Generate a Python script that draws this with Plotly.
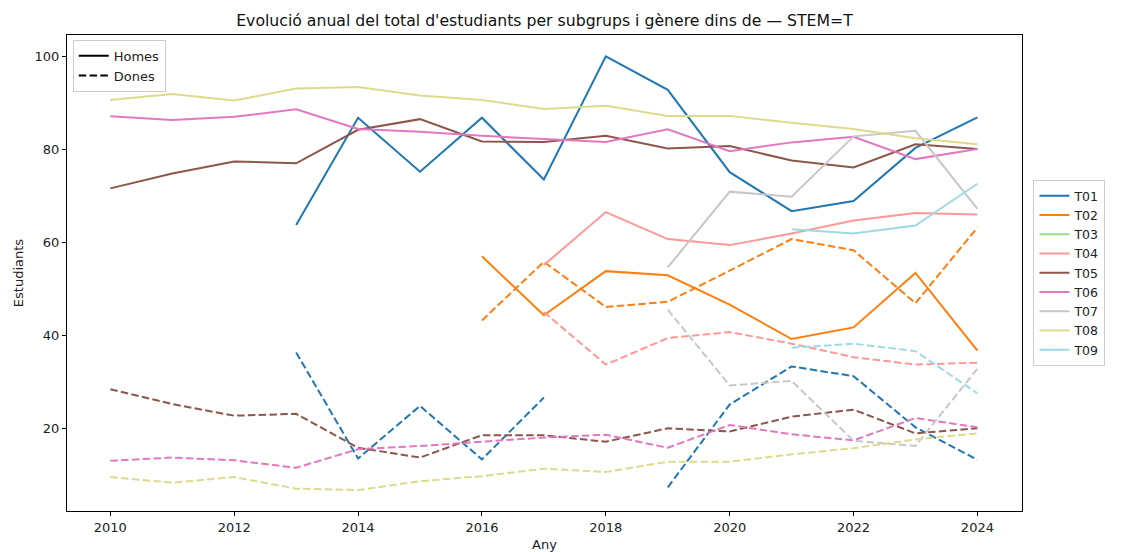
import plotly.graph_objects as go

# Dades llegides del gràfic (None = sense dades)
anys = list(range(2010, 2025))
grups = ["T01", "T02", "T03", "T04", "T05", "T06", "T07", "T08", "T09"]
colors = ["#1f77b4", "#ff7f0e", "#98df8a", "#ff9896", "#8c564b",
          "#e377c2", "#c7c7c7", "#dbdb8d", "#9edae5"]

N = None
homes = {
    "T01": [N, N, N, 63.7, 86.8, 75.2, 86.8, 73.5, 100.0, 92.8, 75.1, 66.7, 68.9, 80.3, 86.9],
    "T02": [N, N, N, N, N, N, 57.0, 44.3, 53.8, 52.9, 46.6, 39.2, 41.7, 53.4, 36.7],
    "T03": [N] * 15,
    "T04": [N, N, N, N, N, N, N, 55.1, 66.5, 60.7, 59.4, 61.9, 64.7, 66.3, 66.0],
    "T05": [71.6, 74.8, 77.4, 77.0, 84.2, 86.5, 81.7, 81.6, 82.9, 80.2, 80.7, 77.6, 76.1, 81.1, 80.1],
    "T06": [87.1, 86.3, 87.0, 88.6, 84.4, 83.8, 82.9, 82.2, 81.6, 84.3, 79.6, 81.5, 82.7, 77.9, 80.1],
    "T07": [N, N, N, N, N, N, N, N, N, 54.6, 70.9, 69.8, 82.8, 84.0, 67.2],
    "T08": [90.6, 91.9, 90.5, 93.1, 93.4, 91.6, 90.6, 88.7, 89.4, 87.2, 87.2, 85.7, 84.4, 82.4, 81.1],
    "T09": [N, N, N, N, N, N, N, N, N, N, N, 62.8, 61.9, 63.6, 72.6],
}
dones = {
    "T01": [N, N, N, 36.3, 13.5, 24.8, 13.3, 26.6, N, 7.3, 25.1, 33.3, 31.2, 20.2, 13.2],
    "T02": [N, N, N, N, N, N, 43.2, 55.8, 46.1, 47.2, 53.9, 60.7, 58.3, 46.9, 63.2],
    "T03": [N] * 15,
    "T04": [N, N, N, N, N, N, N, 45.0, 33.7, 39.4, 40.7, 38.2, 35.3, 33.7, 34.1],
    "T05": [28.4, 25.2, 22.7, 23.1, 15.8, 13.7, 18.5, 18.5, 17.1, 20.0, 19.3, 22.5, 24.0, 18.9, 20.0],
    "T06": [13.0, 13.7, 13.1, 11.5, 15.5, 16.2, 17.1, 18.0, 18.6, 15.8, 20.7, 18.7, 17.4, 22.2, 20.2],
    "T07": [N, N, N, N, N, N, N, N, N, 45.5, 29.2, 30.2, 17.3, 16.2, 32.8],
    "T08": [9.5, 8.3, 9.5, 7.0, 6.7, 8.6, 9.7, 11.3, 10.6, 12.8, 12.8, 14.4, 15.7, 17.6, 18.9],
    "T09": [N, N, N, N, N, N, N, N, N, N, N, 37.3, 38.2, 36.6, 27.5],
}

DASH = "7.5px,3.3px"

fig = go.Figure()

for g, c in zip(grups, colors):
    fig.add_trace(go.Scatter(
        x=anys, y=homes[g], mode="lines", name=g,
        line=dict(color=c, width=2), legend="legend",
        legendgroup=g, connectgaps=False, hoverinfo="skip",
    ))
    fig.add_trace(go.Scatter(
        x=anys, y=dones[g], mode="lines", name=g,
        line=dict(color=c, width=2, dash=DASH), legend="legend",
        legendgroup=g, showlegend=False, connectgaps=False, hoverinfo="skip",
    ))

# llegenda de gènere
fig.add_trace(go.Scatter(x=[None], y=[None], mode="lines", name="Homes",
                         line=dict(color="black", width=2), legend="legend2"))
fig.add_trace(go.Scatter(x=[None], y=[None], mode="lines", name="Dones",
                         line=dict(color="black", width=2, dash=DASH), legend="legend2"))

axis_common = dict(
    showgrid=False, zeroline=False, showline=True, linecolor="black",
    linewidth=1, mirror=True, ticks="outside", ticklen=4, tickcolor="black",
    tickfont=dict(size=13, color="#222222"), automargin=False,
)

# la pàgina té 8px de marge al body: la figura es dibuixa una mica més petita
fig.update_layout(
    width=1114, height=544,
    margin=dict(l=59, r=100, t=27, b=41),
    plot_bgcolor="white", paper_bgcolor="white",
    font=dict(family="DejaVu Sans", color="#222222", size=13),
    title=dict(text="Evolució anual del total d'estudiants per subgrups i gènere dins de — STEM=T",
               x=0.5, xref="paper", xanchor="center", y=0.977, yanchor="middle",
               font=dict(size=15.7, color="#111111")),
    xaxis=dict(axis_common, range=[2009.3, 2024.72], tickvals=list(range(2010, 2025, 2)),
               title=dict(text="Any", standoff=6, font=dict(size=13))),
    yaxis=dict(axis_common, range=[2.2, 104.6], tickvals=[20, 40, 60, 80, 100],
               title=dict(text="Estudiants", standoff=8, font=dict(size=13))),
    legend=dict(x=1.012, y=0.5, xanchor="left", yanchor="middle",
                bordercolor="#cccccc", borderwidth=1, bgcolor="white",
                font=dict(size=12.5), tracegroupgap=0, itemwidth=30),
    legend2=dict(x=0.006, y=0.99, xanchor="left", yanchor="top",
                 bordercolor="#cccccc", borderwidth=1, bgcolor="rgba(255,255,255,0.8)",
                 font=dict(size=13), itemwidth=30),
    showlegend=True,
)

fig.write_html("out.html")
